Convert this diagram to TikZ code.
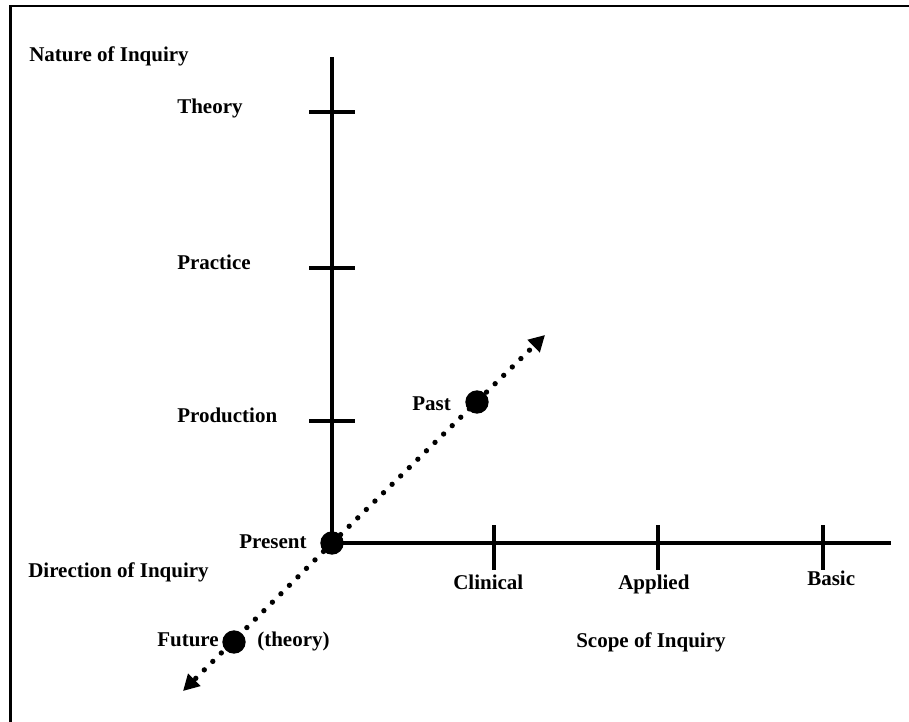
\documentclass[tikz,border=0pt]{standalone}
\usepackage{fontspec}
\setmainfont{Liberation Serif}
\usetikzlibrary{positioning,arrows.meta}

\begin{document}
\begin{tikzpicture}[x=0.75pt, y=-0.75pt, >={Triangle[length=12pt,width=12.5pt]},
  every node/.style={font=\bfseries\fontsize{15.75pt}{18pt}\selectfont, inner sep=0pt},
  axis/.style={line width=2.8pt},
  time line/.style={line width=4pt, line cap=round, dash pattern=on 0pt off 9pt},
  dot/.style={circle, fill, minimum size=17.5pt, inner sep=0pt}]

\useasboundingbox (0,0) rectangle (909,721);
\clip (0,0) rectangle (909,721);

% frame, only top and left edges show
\draw[line width=2pt] (10.5,6) rectangle (960,780);

\coordinate (origin) at (332,543);
\coordinate (nature-top) at (332,57);
\coordinate (scope-end) at (891,543);
\coordinate (past-end) at (545,335);
\coordinate (future-end) at (183,691);

% direction of inquiry
\draw[time line, ->] (origin) -- (past-end);
\draw[time line, ->] (origin) -- (future-end);

% the two axes
\draw[axis] (origin) -- (nature-top);
\draw[axis] (origin) -- (scope-end);

\foreach \l/\y [count=\i] in {Theory/112, Practice/268, Production/421} {
  \draw[axis] (309,\y) -- (355,\y);
  \node[anchor=base west] (nature-\i) at (177,\y+1) {\l};
}

\foreach \l/\x/\lx/\ly [count=\i] in {Clinical/494/453/589, Applied/658/618/589, Basic/823/807/585} {
  \draw[axis] (\x,525) -- (\x,570);
  \node[anchor=base west] (scope-\i) at (\lx,\ly) {\l};
}

\node[dot] (present) at (origin) {};
\node[dot] (past) at (477,402) {};
\node[dot] (future) at (234,642) {};

\node[anchor=base west] (present-label) at (239,548) {Present};
\node[anchor=base west] (past-label) at (412,410) {Past};
\node[anchor=base west] (future-label) at (157,646) {Future};
\node[anchor=base west] (theory-label) at (257,646) {(theory)};

\node[anchor=base west] (nature-title) at (29,61) {Nature of Inquiry};
\node[anchor=base west] (direction-title) at (28,577) {Direction of Inquiry};
\node[anchor=base west] (scope-title) at (576,647) {Scope of Inquiry};

\end{tikzpicture}
\end{document}
